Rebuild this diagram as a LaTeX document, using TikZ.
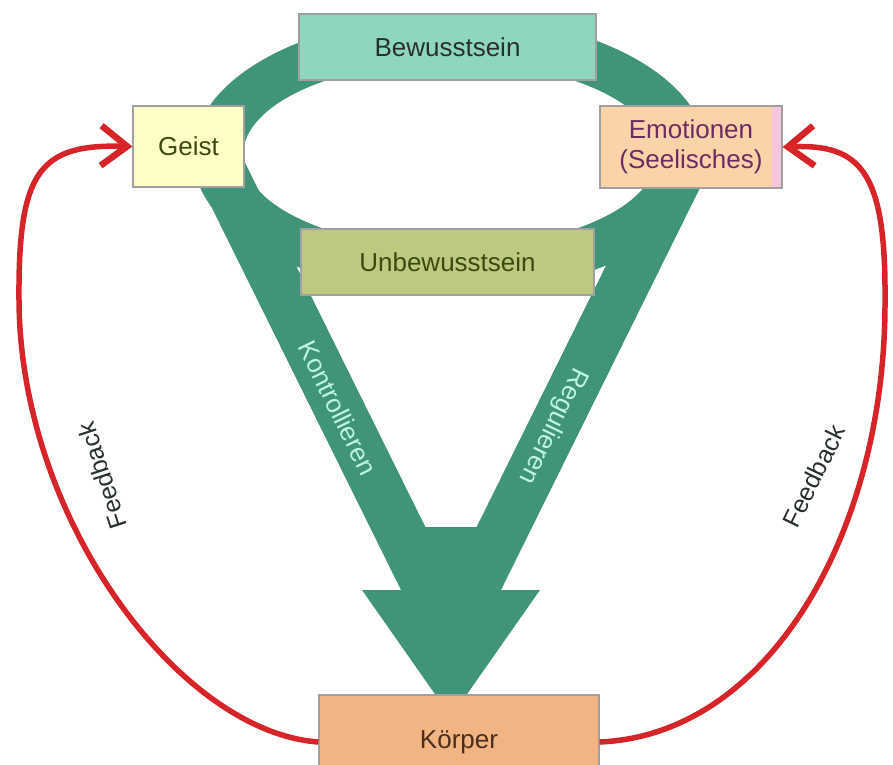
\documentclass[tikz,border=0pt]{standalone}
\usepackage{fontspec}
\setmainfont{Liberation Sans}
\usetikzlibrary{arrows.meta}
\definecolor{armgreen}{RGB}{64,148,122}
\definecolor{boxgray}{RGB}{160,160,160}
\definecolor{bewfill}{RGB}{143,214,192}
\definecolor{geistfill}{RGB}{255,253,200}
\definecolor{emofill}{RGB}{252,210,168}
\definecolor{emopink}{RGB}{246,198,222}
\definecolor{unbewfill}{RGB}{188,201,126}
\definecolor{koerperfill}{RGB}{242,180,130}
\definecolor{fbred}{RGB}{214,36,40}
\definecolor{armtext}{RGB}{190,245,222}
\definecolor{olivetext}{RGB}{60,74,18}
\definecolor{emotext}{RGB}{106,45,99}
\definecolor{darktext}{RGB}{40,48,44}
\definecolor{browntext}{RGB}{74,46,30}
\tikzset{
  box/.style={draw=boxgray, line width=1.2pt, inner sep=0pt, align=center, font=\fontsize{26}{30}\selectfont},
  armlabel/.style={text=armtext, inner sep=0pt, font=\fontsize{26}{30}\selectfont},
  fblabel/.style={text=darktext, inner sep=0pt, font=\fontsize{25}{30}\selectfont},
  feedback/.style={draw=fbred, line width=5.5pt, -{Straight Barb[length=26pt,width=40pt,line width=6.5pt]}},
}
\begin{document}
\begin{tikzpicture}[x=1pt,y=1pt,yscale=-1,xscale=1]
        \useasboundingbox (0,0) rectangle (893,764);
        \fill[white] (0,0) rectangle (893,764);
        %Shape: Ring [id:ring]
        \fill[armgreen, even odd rule] (450,155) ellipse [x radius=257, y radius=139] (450,155) ellipse [x radius=207, y radius=93];
        %Shape: Arrow [id:arms]
        \fill[armgreen] (183.25,150) -- (401,590) -- (362,590) -- (437,697) -- (465,697) -- (540,590) -- (501,590) -- (718.75,150) -- (663.25,150) -- (476.6,527) -- (425.4,527) -- (238.75,150) -- cycle;
        % Text Node
        \node[box, fill=bewfill, text=darktext, minimum width=297pt, minimum height=66pt] (bew) at (447.5,47) {Bewusstsein};
        % Text Node
        \node[box, fill=geistfill, text=olivetext, minimum width=111pt, minimum height=81pt] (geist) at (188.5,146.5) {Geist};
        % Text Node
        \node[box, fill=emofill, text=emotext, minimum width=182pt, minimum height=82pt,
          path picture={\fill[emopink] ([xshift=-10pt]path picture bounding box.north east) rectangle (path picture bounding box.south east);}] (emo) at (691,147) {Emotionen\\(Seelisches)};
        % Text Node
        \node[box, fill=unbewfill, text=olivetext, minimum width=293pt, minimum height=66pt] (unbew) at (447.5,262) {Unbewusstsein};
        % Text Node
        \node[box, fill=koerperfill, text=browntext, minimum width=280pt, minimum height=94pt] (koerper) at (459,742) {Körper};
        % Text Node
        \node[armlabel, rotate=-64] (kontr) at (338,408) {Kontrollieren};
        % Text Node
        \node[armlabel, rotate=-116] (regul) at (553,426) {Regulieren};
        %Curve Lines [id:fbleft]
        \draw[feedback] (koerper.west) .. controls (180,732) and (20,520) .. (19,300) .. controls (18,170) and (40,144) .. (geist.west);
        %Curve Lines [id:fbright]
        \draw[feedback] (koerper.east) .. controls (770,735) and (886,530) .. (885,300) .. controls (886,170) and (860,144) .. (emo.east);
        % Text Node
        \node[fblabel, rotate=108] (fbl) at (102,476) {Feedback};
        % Text Node
        \node[fblabel, rotate=64] (fbr) at (814,476) {Feedback};
\end{tikzpicture}
\end{document}
